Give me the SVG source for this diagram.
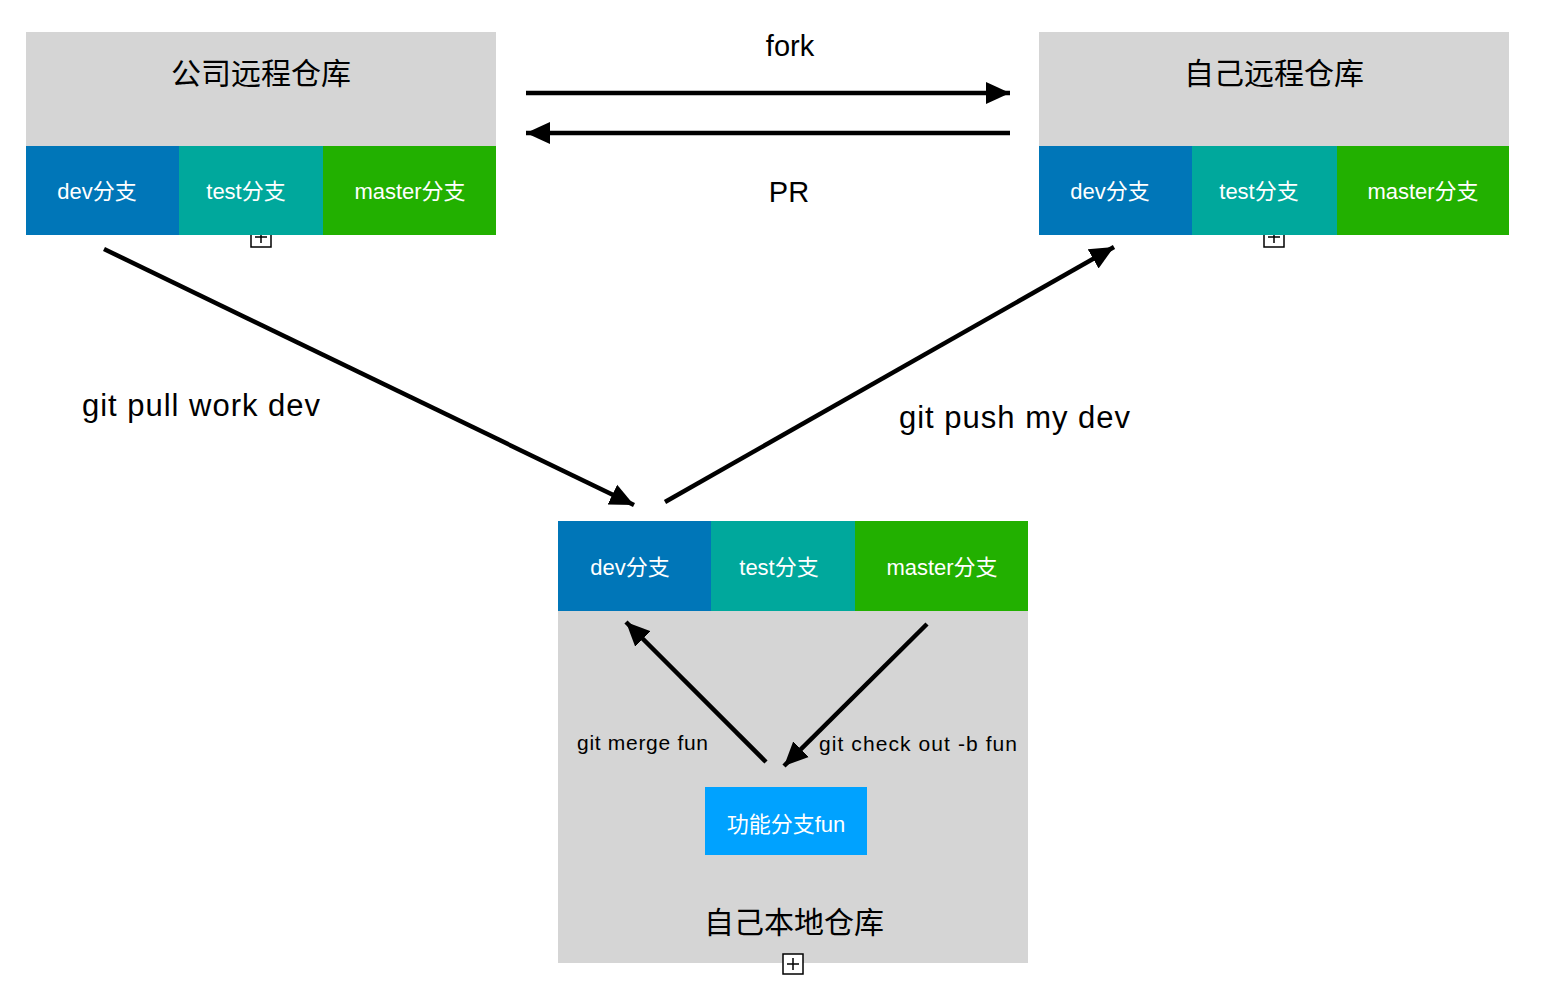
<svg xmlns="http://www.w3.org/2000/svg" width="1544" height="986" viewBox="0 0 1544 986">
<style>
.gray{fill:#d5d5d5}
.dev{fill:#0076b8}
.test{fill:#00a89c}
.master{fill:#22b000}
.fun{fill:#00a2ff}
.bt{font-family:"Liberation Sans","Noto Sans CJK SC",sans-serif;font-size:22px;fill:#fff;text-anchor:middle}
.ht{font-family:"Noto Sans CJK SC","Liberation Sans",sans-serif;font-size:30px;fill:#000;text-anchor:middle}
.lb{font-family:"Liberation Sans","Noto Sans CJK SC",sans-serif;fill:#000}
.icon{fill:#fff;stroke:#000;stroke-width:1.5}
.conn{stroke:#000;stroke-width:4.5;fill:none;marker-end:url(#ah)}
</style>
<defs>
<marker id="ah" markerUnits="userSpaceOnUse" markerWidth="26" markerHeight="26" viewBox="0 0 26 26" refX="24" refY="13" orient="auto">
<path d="M0,2 L24,13 L0,24 Z" fill="#000"/>
</marker>
</defs>
<rect width="1544" height="986" fill="#fff"/>

<g id="company-remote">
<rect class="icon" x="251" y="227" width="20" height="20"/>
<path d="M255,237 H267 M261,231 V243" stroke="#000" stroke-width="1.5"/>
<rect class="gray" x="26" y="32" width="470" height="114"/>
<text class="ht" x="261" y="84">公司远程仓库</text>
<rect class="dev" x="26" y="146" width="153" height="89"/>
<rect class="test" x="179" y="146" width="144" height="89"/>
<rect class="master" x="323" y="146" width="173" height="89"/>
<text class="bt" x="97" y="199">dev分支</text>
<text class="bt" x="246" y="199">test分支</text>
<text class="bt" x="410" y="199">master分支</text>
</g>

<g id="own-remote">
<rect class="icon" x="1264" y="227" width="20" height="20"/>
<path d="M1268,237 H1280 M1274,231 V243" stroke="#000" stroke-width="1.5"/>
<rect class="gray" x="1039" y="32" width="470" height="114"/>
<text class="ht" x="1274" y="84">自己远程仓库</text>
<rect class="dev" x="1039" y="146" width="153" height="89"/>
<rect class="test" x="1192" y="146" width="145" height="89"/>
<rect class="master" x="1337" y="146" width="172" height="89"/>
<text class="bt" x="1110" y="199">dev分支</text>
<text class="bt" x="1259" y="199">test分支</text>
<text class="bt" x="1423" y="199">master分支</text>
</g>

<g id="local">
<rect class="gray" x="558" y="611" width="470" height="352"/>
<rect class="dev" x="558" y="521" width="153" height="90"/>
<rect class="test" x="711" y="521" width="144" height="90"/>
<rect class="master" x="855" y="521" width="173" height="90"/>
<text class="bt" x="630" y="575">dev分支</text>
<text class="bt" x="779" y="575">test分支</text>
<text class="bt" x="942" y="575">master分支</text>
<text class="ht" x="794" y="933">自己本地仓库</text>
<rect class="icon" x="783" y="954" width="20" height="20"/>
<path d="M787,964 H799 M793,958 V970" stroke="#000" stroke-width="1.5"/>
</g>

<g id="fun">
<rect class="fun" x="705" y="787" width="162" height="68"/>
<text class="bt" x="786" y="832">功能分支fun</text>
</g>

<g id="connectors">
<line class="conn" x1="526" y1="93" x2="1010" y2="93"/>
<line class="conn" x1="1010" y1="133" x2="526" y2="133"/>
<line class="conn" x1="104" y1="249" x2="634" y2="505"/>
<line class="conn" x1="665" y1="502" x2="1114" y2="247"/>
<line class="conn" x1="766" y1="762" x2="626" y2="622"/>
<line class="conn" x1="927" y1="624" x2="784" y2="766"/>
</g>

<g id="labels">
<text class="lb" x="790" y="56" font-size="29" text-anchor="middle">fork</text>
<text class="lb" x="789" y="202" font-size="29" text-anchor="middle">PR</text>
<text class="lb" x="82" y="416" font-size="31" textLength="238" lengthAdjust="spacing">git pull work dev</text>
<text class="lb" x="899" y="428" font-size="31" textLength="231" lengthAdjust="spacing">git push my dev</text>
<text class="lb" x="577" y="750" font-size="21" textLength="131" lengthAdjust="spacing">git merge fun</text>
<text class="lb" x="819" y="751" font-size="21" textLength="198" lengthAdjust="spacing">git check out -b fun</text>
</g>
</svg>
